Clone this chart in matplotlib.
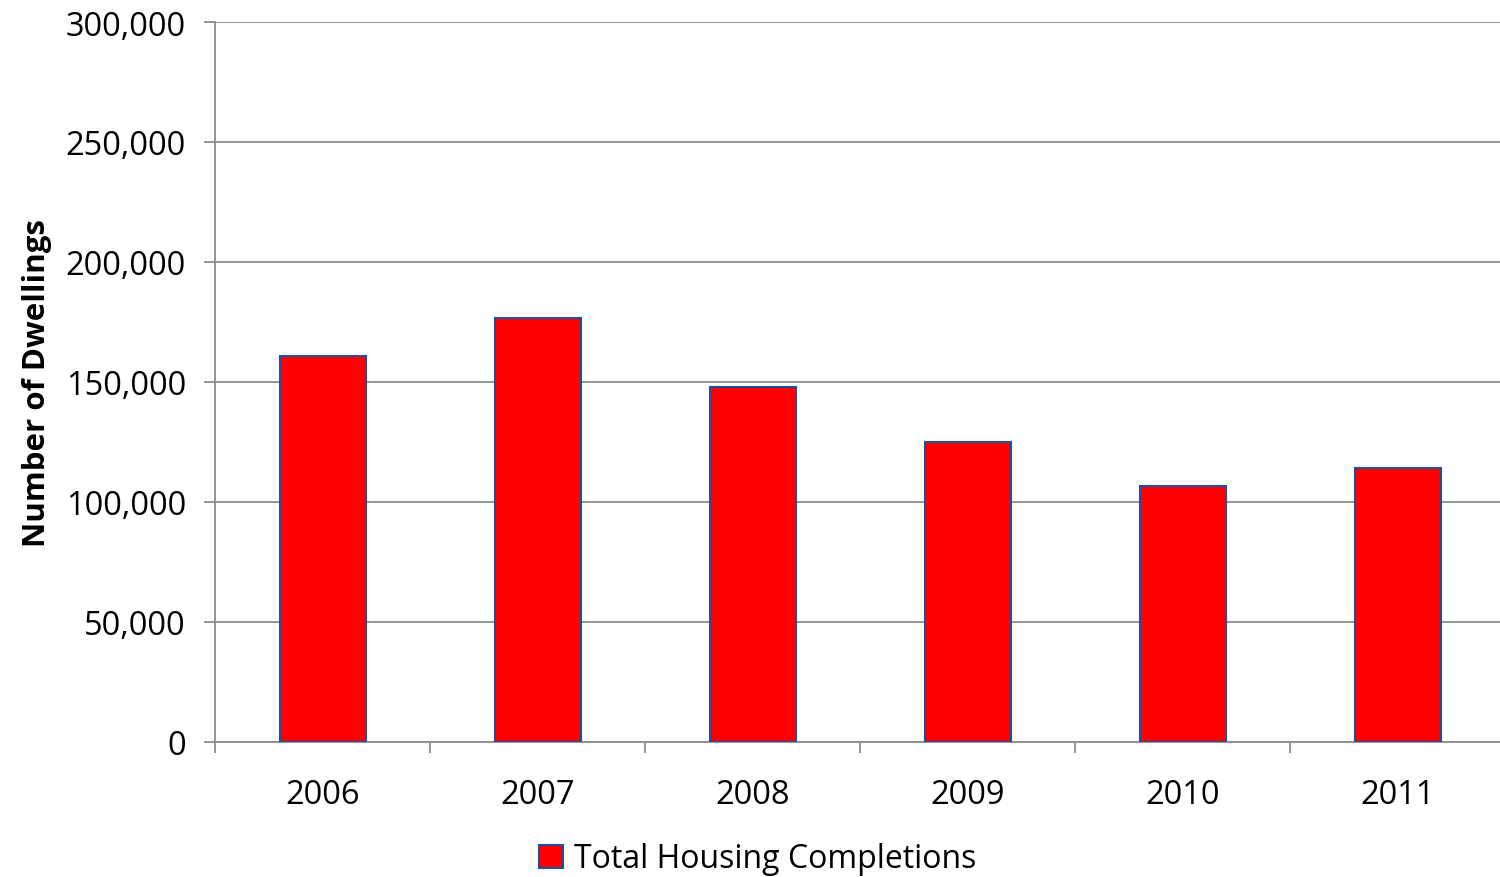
import matplotlib.pyplot as plt
from matplotlib.ticker import FuncFormatter, FixedLocator

years = ['2006', '2007', '2008', '2009', '2010', '2011']
completions = [160800, 176700, 147900, 125000, 106700, 114200]

plt.rcParams['font.family'] = ['Open Sans', 'DejaVu Sans']

fig = plt.figure(figsize=(15, 8.78), dpi=100)
ax = fig.add_axes([215 / 1500, 1 - 743 / 878, 1290 / 1500, 720 / 878])

x = list(range(len(years)))
bars = ax.bar(x, completions, width=0.4, color='#ff0000', edgecolor='#1f4e9a',
              linewidth=1.5, label='Total Housing Completions', zorder=3)

ax.set_xlim(-0.5, len(years) - 0.5)
ax.set_ylim(0, 300000)
ax.set_yticks(range(0, 300001, 50000))
ax.yaxis.set_major_formatter(FuncFormatter(lambda v, p: f'{int(v):,}'))
ax.grid(axis='y', color='#8c8c8c', linewidth=1.3, zorder=0)

ax.set_xticks(x)
ax.set_xticklabels(years)
ax.tick_params(axis='x', length=0, labelsize=23.5, pad=26)
ax.xaxis.set_minor_locator(FixedLocator([i - 0.5 for i in range(len(years) + 1)]))
ax.tick_params(axis='x', which='minor', length=8, color='#8c8c8c', width=1.3)
ax.tick_params(axis='y', length=8, color='#8c8c8c', width=1.3, labelsize=23.5, pad=13)

for s in ['top', 'right']:
    ax.spines[s].set_visible(False)
ax.spines['left'].set_color('#8c8c8c')
ax.spines['bottom'].set_color('#8c8c8c')
ax.spines['left'].set_linewidth(1.3)
ax.spines['bottom'].set_linewidth(1.3)

ax.set_ylabel('Number of Dwellings', fontsize=22.5, fontweight='bold', labelpad=10)

fig.legend(loc='center', bbox_to_anchor=(758 / 1500, 1 - 860 / 878), frameon=False,
           fontsize=23, handlelength=0.75, handleheight=0.75, handletextpad=0.35)

plt.savefig('out.png', dpi=100)
